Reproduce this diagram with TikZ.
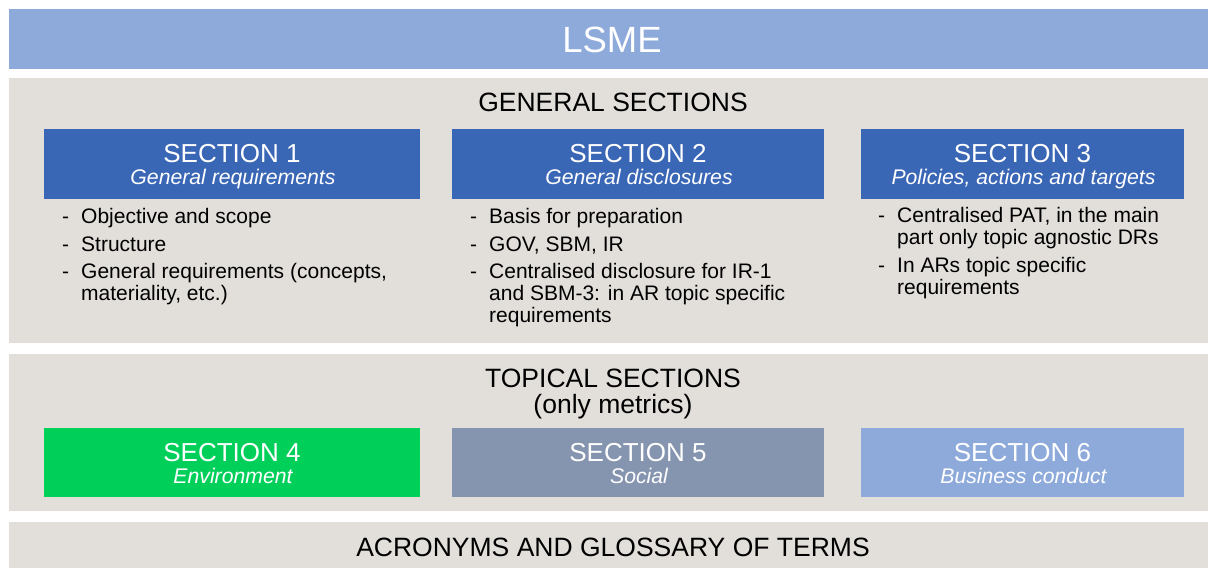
\documentclass[tikz,border=0pt]{standalone}
\usepackage{fontspec}
\setmainfont{Liberation Sans}
\definecolor{lsme}{HTML}{8EAADB}
\definecolor{panel}{HTML}{E2DFDB}
\definecolor{secblue}{HTML}{3966B5}
\definecolor{secgreen}{HTML}{00D05A}
\definecolor{secgrey}{HTML}{8595AF}
\tikzset{
  hdr/.style={font=\fontsize{26}{28}\selectfont, text=white, anchor=base, inner sep=0pt},
  sub/.style={font=\fontsize{21.2}{24}\selectfont\itshape, text=white, anchor=base, inner sep=0pt},
  ttl/.style={font=\fontsize{26.5}{28}\selectfont, text=black, anchor=base, inner sep=0pt},
  dashmark/.style={font=\fontsize{21}{22}\selectfont, anchor=base west, inner sep=0pt},
  item/.style={font=\fontsize{21}{22}\selectfont, anchor=base west, inner sep=0pt, align=left}
}
\begin{document}
\begin{tikzpicture}[x=1pt,y=-1pt]
\useasboundingbox (0,0) rectangle (1208,568);
\fill[white] (0,0) rectangle (1208,568);
% bands
\fill[lsme] (9,9) rectangle (1208,69);
\fill[panel] (9,78) rectangle (1208,343);
\fill[panel] (9,354) rectangle (1208,511);
\fill[panel] (9,522) rectangle (1208,568);
\node[font=\fontsize{36.5}{38}\selectfont, text=white, anchor=base, inner sep=0pt] (lsme) at (612,52) {LSME};
\node[ttl] (gen) at (613,111) {GENERAL SECTIONS};
\node[ttl] (top) at (613,387) {TOPICAL SECTIONS};
\node[ttl] (only) at (613,413) {(only metrics)};
\node[ttl] (acr) at (613,556) {ACRONYMS AND GLOSSARY OF TERMS};
% section boxes
\fill[secblue] (44,129) rectangle (420,199);
\fill[secblue] (452,129) rectangle (824,199);
\fill[secblue] (861,129) rectangle (1184,199);
\fill[secgreen] (44,428) rectangle (420,497);
\fill[secgrey] (452,428) rectangle (824,497);
\fill[lsme] (861,428) rectangle (1184,497);
\node[hdr] (s1) at (232,162) {SECTION 1};
\node[sub] (s1s) at (233,184) {General requirements};
\node[hdr] (s2) at (638,162) {SECTION 2};
\node[sub] (s2s) at (639,184) {General disclosures};
\node[hdr] (s3) at (1022.5,162) {SECTION 3};
\node[sub] (s3s) at (1023.5,184) {Policies, actions and targets};
\node[hdr] (s4) at (232,461) {SECTION 4};
\node[sub] (s4s) at (233,483) {Environment};
\node[hdr] (s5) at (638,461) {SECTION 5};
\node[sub] (s5s) at (639,483) {Social};
\node[hdr] (s6) at (1022.5,461) {SECTION 6};
\node[sub] (s6s) at (1023.5,483) {Business conduct};
% section 1 items
\node[dashmark] (d11) at (62,223) {-};
\node[item] (i11) at (81,223) {Objective and scope};
\node[dashmark] (d12) at (62,251) {-};
\node[item] (i12) at (81,251) {Structure};
\node[dashmark] (d13) at (62,278) {-};
\node[item] (i13) at (81,300) {General requirements (concepts,\\materiality, etc.)};
% section 2 items
\node[dashmark] (d21) at (470,223) {-};
\node[item] (i21) at (489,223) {Basis for preparation};
\node[dashmark] (d22) at (470,251) {-};
\node[item] (i22) at (489,251) {GOV, SBM, IR};
\node[dashmark] (d23) at (470,278) {-};
\node[item] (i23) at (489,322) {Centralised disclosure for IR-1\\and SBM-3: in AR topic specific\\requirements};
% section 3 items
\node[dashmark] (d31) at (878,222) {-};
\node[item] (i31) at (897,244) {Centralised PAT, in the main\\part only topic agnostic DRs};
\node[dashmark] (d32) at (878,272) {-};
\node[item] (i32) at (897,294) {In ARs topic specific\\requirements};
\end{tikzpicture}
\end{document}
